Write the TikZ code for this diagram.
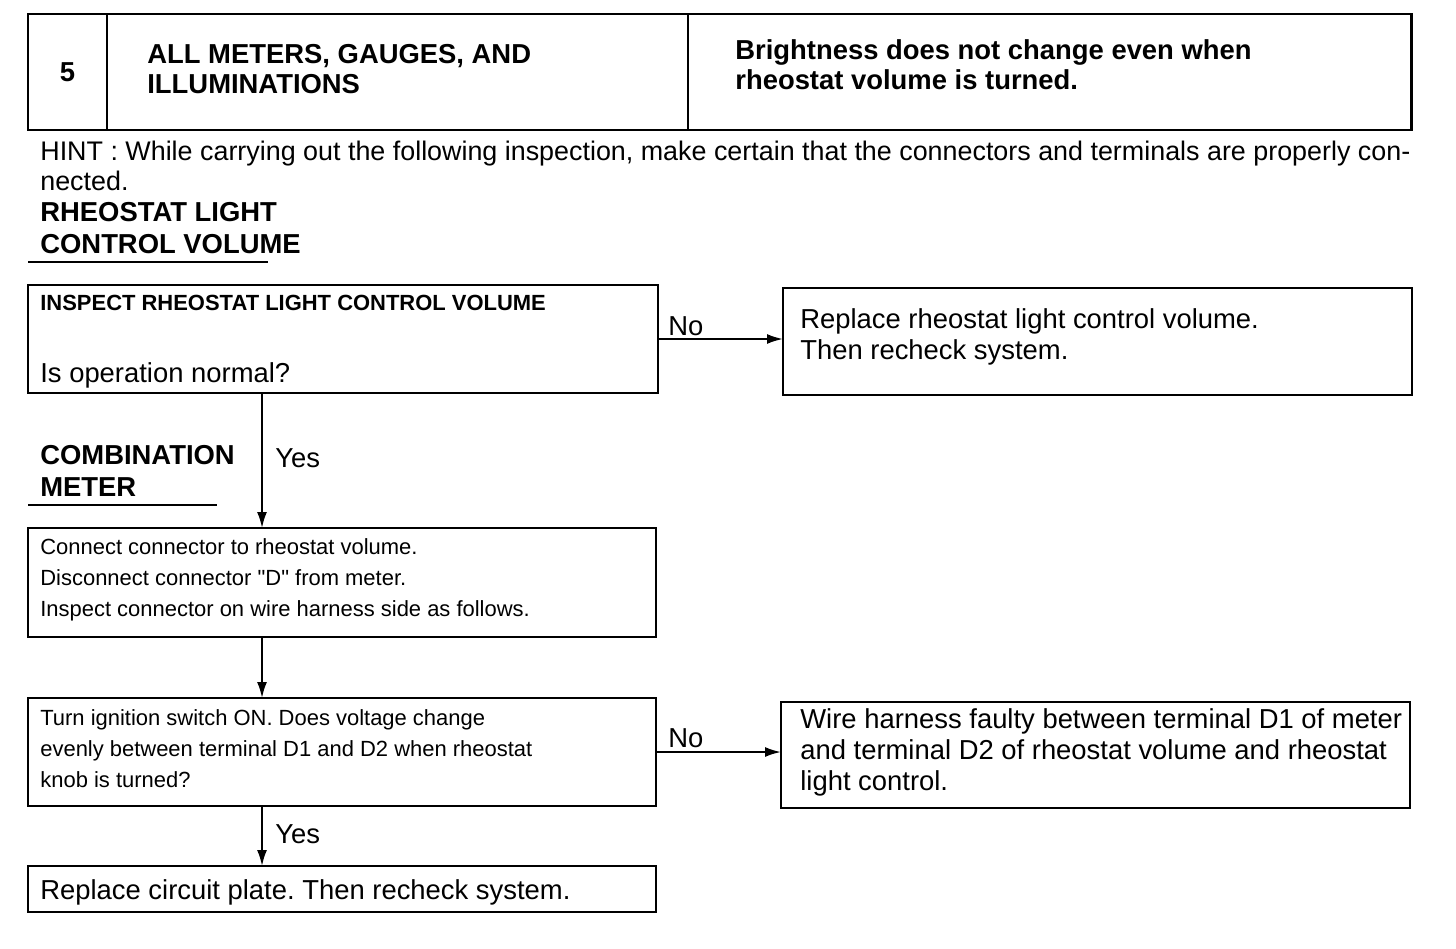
\documentclass[tikz,border=0pt]{standalone}
\usepackage{fontspec}
\setmainfont{Liberation Sans}[Ligatures=TeXOff]
\usetikzlibrary{arrows.meta}
\frenchspacing

\tikzset{
  box/.style={draw, line width=1.5pt, anchor=north west, inner sep=0pt, outer sep=0pt},
  txt/.style={anchor=base west, inner sep=0pt, font=\fontsize{15.6}{17.6}\selectfont},
  txtb/.style={txt, font=\fontsize{15.6}{17.6}\selectfont\bfseries},
  small/.style={anchor=base west, inner sep=0pt, font=\fontsize{12.5}{15}\selectfont},
  smallb/.style={small, font=\fontsize{12.5}{15}\selectfont\bfseries},
  arr/.style={line width=1.1pt, -{Latex[length=3.2mm,width=2mm]}},
  rule/.style={line width=1.2pt}
}

\begin{document}
\begin{tikzpicture}[x=0.02cm, y=-0.02cm]
\useasboundingbox (0,0) rectangle (1456,948);

% header row
\node[box, minimum width=1.58cm, minimum height=2.32cm] (cell1) at (28,14) {};
\node[box, minimum width=11.62cm, minimum height=2.32cm] (cell2) at (cell1.north east) {};
\node[box, minimum width=14.48cm, minimum height=2.32cm] (cell3) at (cell2.north east) {};
\node[txtb, anchor=center] (num) at (cell1.center) {5};
\foreach \t [count=\k] in {{ALL METERS, GAUGES, AND}, ILLUMINATIONS}
    \node[txtb] (title\k) at (147,{63+30*(\k-1)}) {\t};
\foreach \t [count=\k] in {Brightness does not change even when, rheostat volume is turned.}
    \node[txtb] (symp\k) at (735,{59+30*(\k-1)}) {\t};

% hint
\node[txt, font=\fontsize{15.3}{17.6}\selectfont] (hint1) at (40,160) {HINT : While carrying out the following inspection, make certain that the connectors and terminals are properly con-};
\node[txt, font=\fontsize{15.3}{17.6}\selectfont] (hint2) at (40,190) {nected.};

% part headings
\node[txtb] (rh1) at (40,221) {RHEOSTAT LIGHT};
\node[txtb] (rh2) at (40,253) {CONTROL VOLUME};
\draw[rule] (28,262) -- (268,262);
\node[txtb] (cm1) at (40,464) {COMBINATION};
\node[txtb] (cm2) at (40,496) {METER};
\draw[rule] (28,505) -- (217,505);

% step 1
\node[box, minimum width=12.6cm, minimum height=2.16cm] (insp) at (28,285) {};
\node[smallb] (insp1) at (40,310) {INSPECT RHEOSTAT LIGHT CONTROL VOLUME};
\node[txt] (insp2) at (40,382) {Is operation normal?};

\node[box, minimum width=12.58cm, minimum height=2.14cm] (repl) at (783,288) {};
\foreach \t [count=\k] in {Replace rheostat light control volume., Then recheck system.}
    \node[txt] (repl\k) at (800,{328+31*(\k-1)}) {\t};

% step 2
\node[box, minimum width=12.56cm, minimum height=2.18cm] (conn) at (28,528) {};
\foreach \t [count=\k] in {Connect connector to rheostat volume., Disconnect connector "D" from meter., Inspect connector on wire harness side as follows.}
    \node[small] (conn\k) at (40,{554+31*(\k-1)}) {\t};

% step 3
\node[box, minimum width=12.56cm, minimum height=2.16cm] (volt) at (28,698) {};
\foreach \t [count=\k] in {Turn ignition switch ON. Does voltage change, evenly between terminal D1 and D2 when rheostat, knob is turned?}
    \node[small] (volt\k) at (40,{725+31*(\k-1)}) {\t};

\node[box, minimum width=12.58cm, minimum height=2.12cm] (wire) at (781,702) {};
\foreach \t [count=\k] in {Wire harness faulty between terminal D1 of meter, and terminal D2 of rheostat volume and rheostat, light control.}
    \node[txt] (wire\k) at (800,{728+31*(\k-1)}) {\t};

\node[box, minimum width=12.56cm, minimum height=0.92cm] (plate) at (28,866) {};
\node[txt] (plate1) at (40,899) {Replace circuit plate. Then recheck system.};

% connectors
\coordinate (stem) at (262,0);
\draw[arr] (insp.east) -- (insp.east -| repl.west);
\node[txt] (no1) at (668,335) {No};
\draw[arr] (insp.south -| stem) -- (conn.north -| stem);
\node[txt] (yes1) at (275,467) {Yes};
\draw[arr] (conn.south -| stem) -- (volt.north -| stem);
\draw[arr] (volt.east) -- (volt.east -| wire.west);
\node[txt] (no2) at (668,747) {No};
\draw[arr] (volt.south -| stem) -- (plate.north -| stem);
\node[txt] (yes2) at (275,843) {Yes};

\end{tikzpicture}
\end{document}
